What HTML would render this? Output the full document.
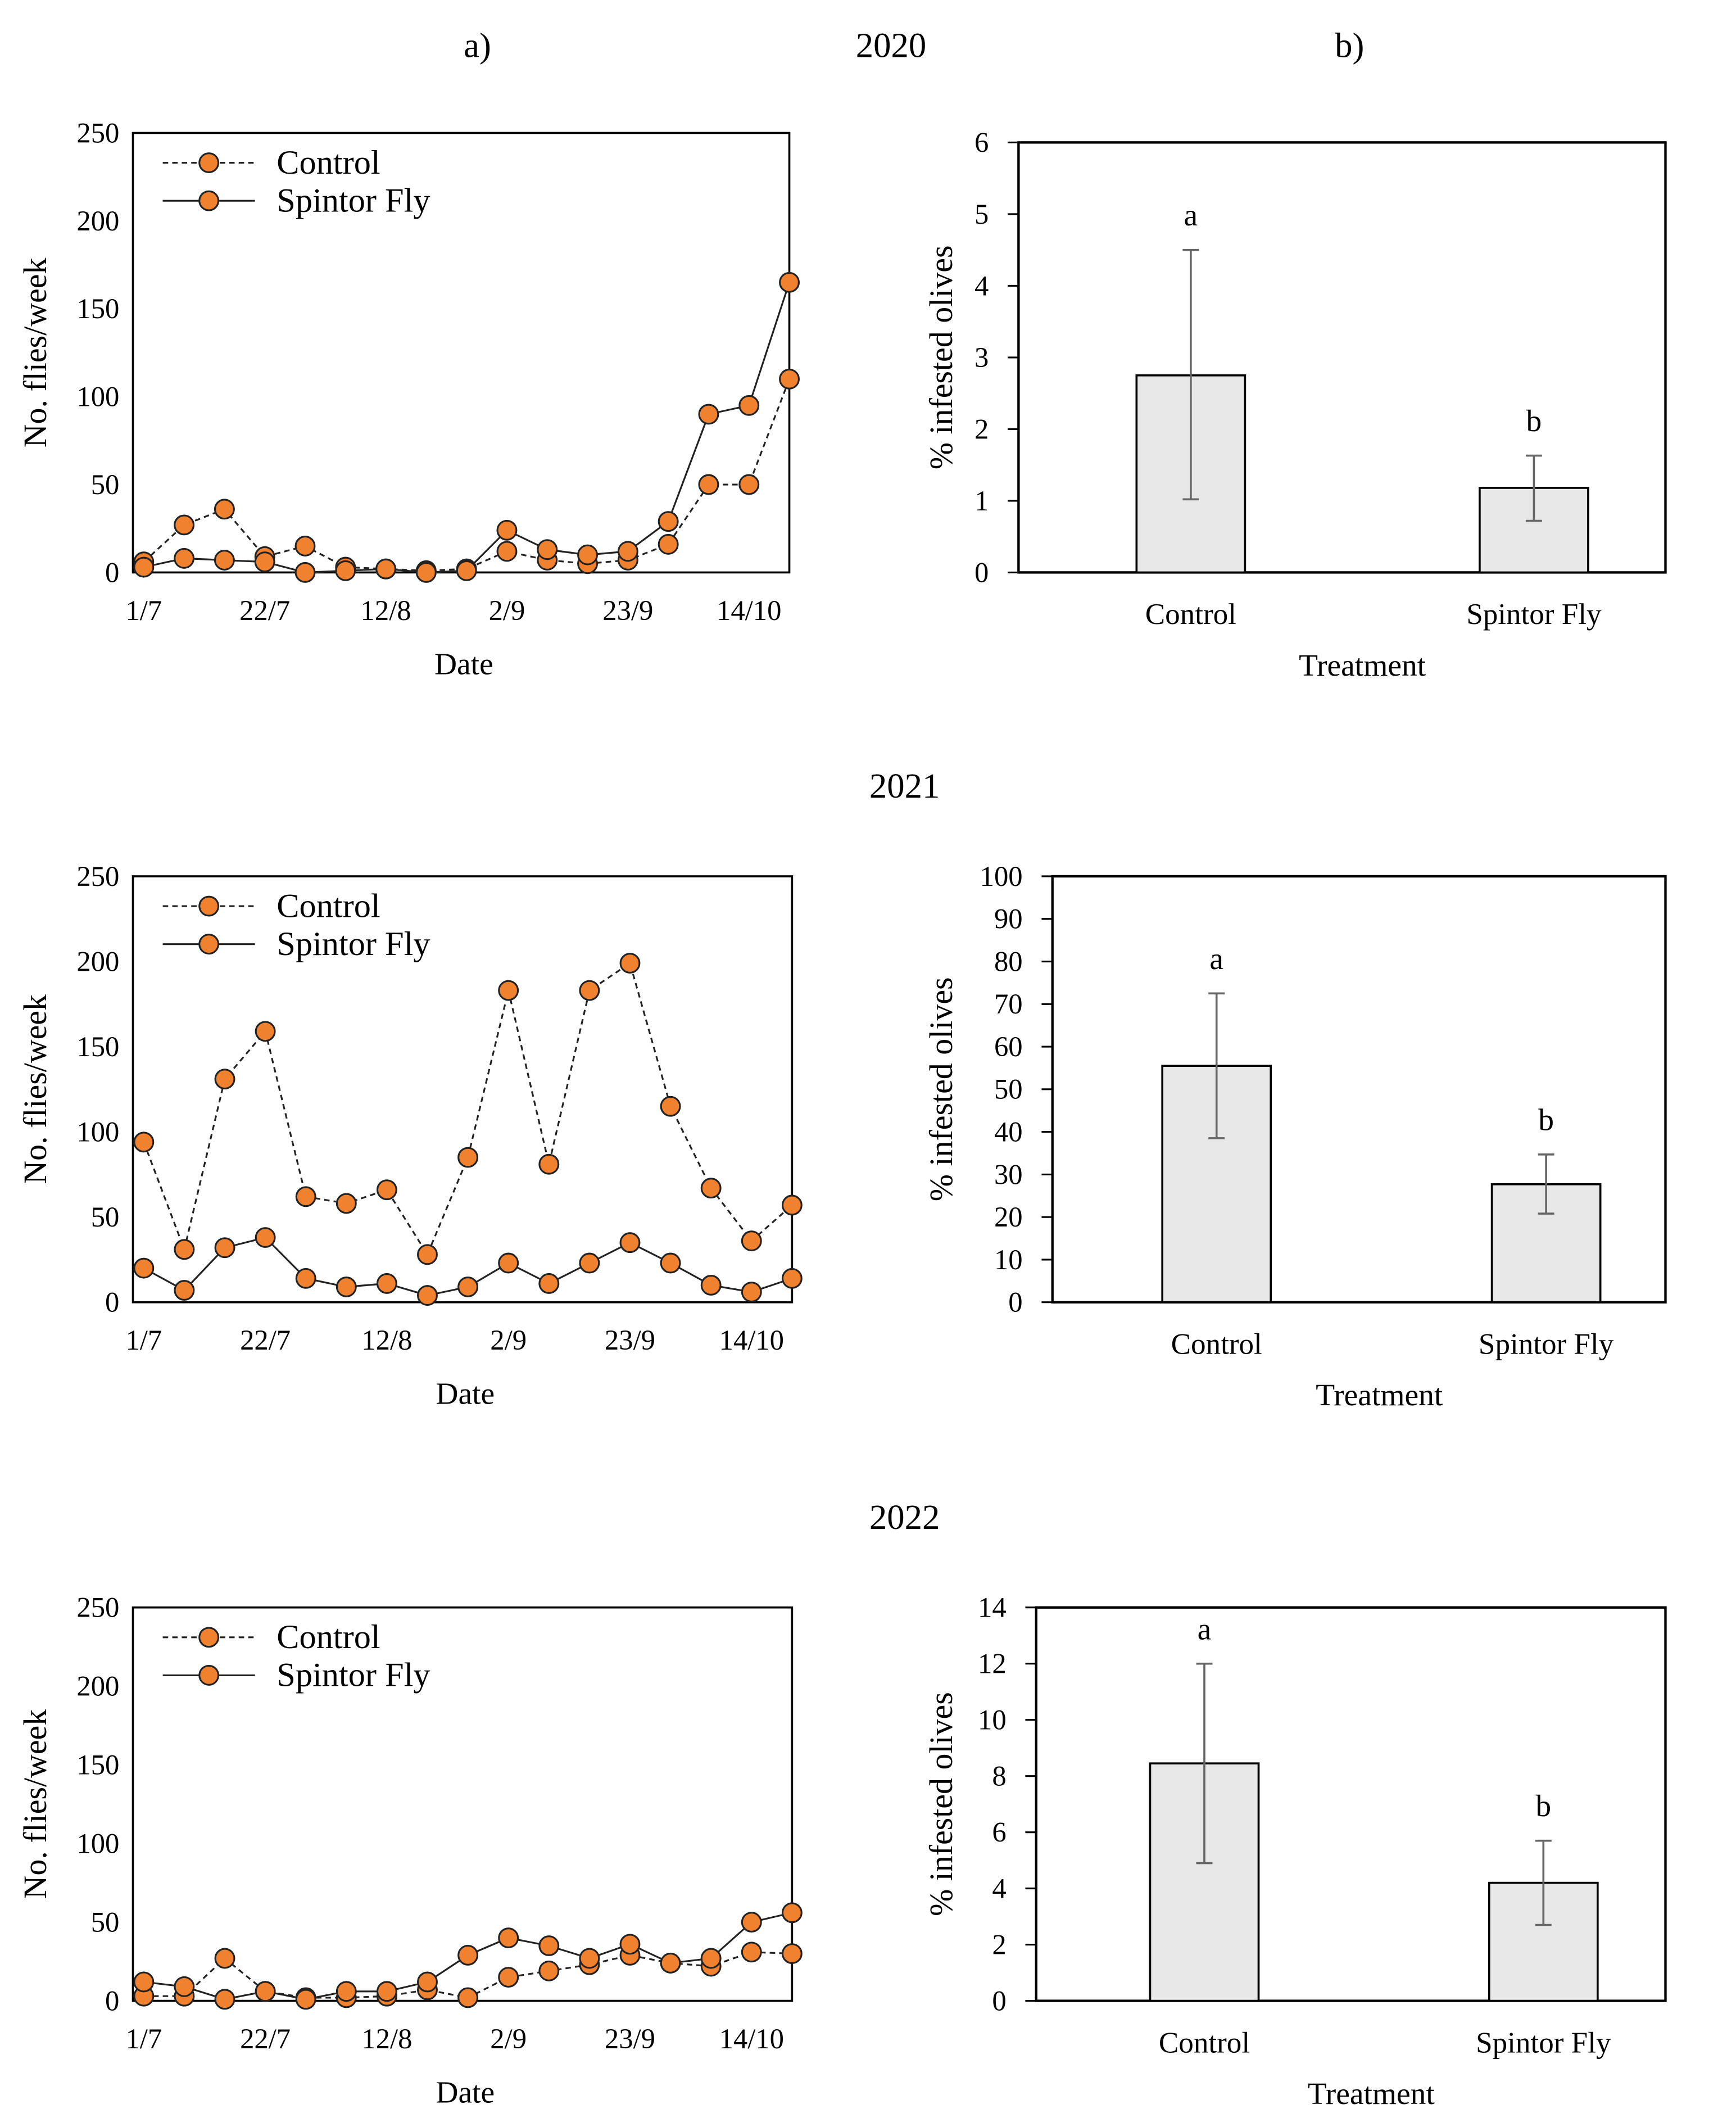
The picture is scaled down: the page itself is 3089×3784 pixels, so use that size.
<!DOCTYPE html>
<html><head><meta charset="utf-8"><style>
html,body{margin:0;padding:0;background:#fff;}
svg{display:block;font-family:"Liberation Serif",serif;}
</style></head><body>
<svg id="fig" width="3089" height="3784" viewBox="0 0 1280 1568"></svg>
<script>
const dates = ["1/7","8/7","15/7","22/7","29/7","5/8","12/8","19/8","26/8","2/9","9/9","16/9","23/9","30/9","7/10","14/10","21/10"];
const tickLabels = ["1/7","22/7","12/8","2/9","23/9","14/10"];
const yTicksLine = [0,50,100,150,200,250];
const control2020 = [6,27,36,9,15,3,2,1,2,12,7,5,7,16,50,50,110];
const spintor2020 = [3,8,7,6,0,1,2,0,1,24,13,10,12,29,90,95,165];
const control2021 = [94,31,131,159,62,58,66,28,85,183,81,183,199,115,67,36,57];
const spintor2021 = [20,7,32,38,14,9,11,4,9,23,11,23,35,23,10,6,14];
const control2022 = [3,3,27,6,2,2,3,7,2,15,19,23,29,24,22,31,30];
const spintor2022 = [12,9,1,6,1,6,6,12,29,40,35,27,36,24,27,50,56];
const treatments = ["Control","Spintor Fly"];
const bar2020 = [2.75,1.18]; const errLo2020 = [1.02,0.72]; const errHi2020 = [4.5,1.63]; const letters2020 = ["a","b"];
const bar2021 = [55.5,27.7]; const errLo2021 = [38.5,20.8]; const errHi2021 = [72.5,34.7]; const letters2021 = ["a","b"];
const bar2022 = [8.45,4.2]; const errLo2022 = [4.9,2.7]; const errHi2022 = [12,5.7]; const letters2022 = ["a","b"];

const NS="http://www.w3.org/2000/svg";
const svg=document.getElementById('fig');
function el(tag,attrs,parent,text){const e=document.createElementNS(NS,tag);for(const k in attrs)e.setAttribute(k,attrs[k]);if(text!==undefined)e.textContent=text;(parent||svg).appendChild(e);return e;}

function txt(x,y,s,size,anchor,name,rot){
  const t=el('text',{x:x,y:y,'font-size':size,'text-anchor':anchor||'middle',fill:'#000'},svg,s);
  if(rot) t.setAttribute('transform','rotate(-90 '+x+' '+y+')');
  
  
  return t;
}

function lineChart(L,R,T,B,ctrl,spin,id){
  const g=el('g',{});
  
  
  const x0=L+8, x1=R;
  const xs=i=>x0+(x1-x0)*i/(dates.length-1);
  const ys=v=>B-(B-T)*v/250;
  const frame=el('rect',{x:L,y:T,width:R-L,height:B-T,fill:'none',stroke:'#000','stroke-width':1.5},g);
  
  
  yTicksLine.forEach(v=>{
    const t=el('text',{x:L-10,y:ys(v)+7,'font-size':21,'text-anchor':'end'},g,String(v));
    
    
  });
  tickLabels.forEach(lbl=>{
    const i=dates.indexOf(lbl);
    const t=el('text',{x:xs(i),y:B+35,'font-size':21,'text-anchor':'middle'},g,lbl);
    
    
  });
  function series(vals,dash,name){
    const pts=vals.map((v,i)=>xs(i)+','+ys(v)).join(' ');
    const pl=el('polyline',{points:pts,fill:'none',stroke:'#222','stroke-width':1.3,'stroke-dasharray':dash?'4,3':'none'},g);
    
    
    vals.forEach((v,i)=>{
      const c=el('circle',{cx:xs(i),cy:ys(v),r:7,fill:'#F0822F',stroke:'#222','stroke-width':1.3},g);
      
      
    });
  }
  series(ctrl,true,'control');
  series(spin,false,'spintor');
  const lx=L+22, ly=T+22;
  [[ 'Control',true,0],['Spintor Fly',false,28]].forEach(([n,d,o])=>{
    const ln=el('line',{x1:lx,y1:ly+o,x2:lx+68,y2:ly+o,stroke:'#222','stroke-width':1.3,'stroke-dasharray':d?'4,3':'none'},g);
    
    
    const c=el('circle',{cx:lx+34,cy:ly+o,r:7,fill:'#F0822F',stroke:'#222','stroke-width':1.3},g);
    
    
    const t=el('text',{x:lx+84,y:ly+o+8,'font-size':25},g,n);
    
    
  });
  txt((L+R)/2+2,B+75,'Date',23,'middle','x-axis-title');
  txt(34,(T+B)/2,'No. flies/week',24,'middle','y-axis-title',true);
}

function barChart(L,R,T,B,max,step,vals,lo,hi,letters,barX,id){
  const g=el('g',{});
  
  
  const ys=v=>B-(B-T)*v/max;
  const frame=el('rect',{x:L,y:T,width:R-L,height:B-T,fill:'none',stroke:'#000','stroke-width':1.8},g);
  
  
  for(let v=0;v<=max+1e-9;v+=step){
    const tk=el('line',{x1:L-8,y1:ys(v),x2:L,y2:ys(v),stroke:'#000','stroke-width':1.3},g);
    
    
    const t=el('text',{x:L-22,y:ys(v)+7,'font-size':21,'text-anchor':'end'},g,String(v));
    
    
  }
  vals.forEach((v,i)=>{
    const cx=barX[i];
    const r=el('rect',{x:cx-40,y:ys(v),width:80,height:B-ys(v),fill:'#e8e8e8',stroke:'#000','stroke-width':1.5},g);
    
    
    const e=el('path',{d:`M${cx},${ys(lo[i])}V${ys(hi[i])}M${cx-6},${ys(hi[i])}H${cx+6}M${cx-6},${ys(lo[i])}H${cx+6}`,stroke:'#666','stroke-width':1.5,fill:'none'},g);
    
    
    const l=el('text',{x:cx,y:ys(hi[i])-18,'font-size':23,'text-anchor':'middle'},g,letters[i]);
    
    
    const t=el('text',{x:cx,y:B+38,'font-size':22,'text-anchor':'middle'},g,treatments[i]);
    
    
  });
  txt((L+R)/2+15,B+76,'Treatment',23,'middle','x-axis-title');
  txt(702,(T+B)/2,'% infested olives',24,'middle','y-axis-title',true);
}

txt(352,42,'a)',26,'middle','panel-a-label');
txt(657,42,'2020',26,'middle','year-2020-title');
txt(995,42,'b)',26,'middle','panel-b-label');
txt(667,588,'2021',26,'middle','year-2021-title');
txt(667,1127,'2022',26,'middle','year-2022-title');

lineChart(98,582,98,422,control2020,spintor2020,'2020');
lineChart(98,584,646,960,control2021,spintor2021,'2021');
lineChart(98,584,1185,1475,control2022,spintor2022,'2022');

barChart(751,1228,105,422,6,1,bar2020,errLo2020,errHi2020,letters2020,[878,1131],'2020');
barChart(776,1228,646,960,100,10,bar2021,errLo2021,errHi2021,letters2021,[897,1140],'2021');
barChart(764,1228,1185,1475,14,2,bar2022,errLo2022,errHi2022,letters2022,[888,1138],'2022');
</script>
</body></html>
